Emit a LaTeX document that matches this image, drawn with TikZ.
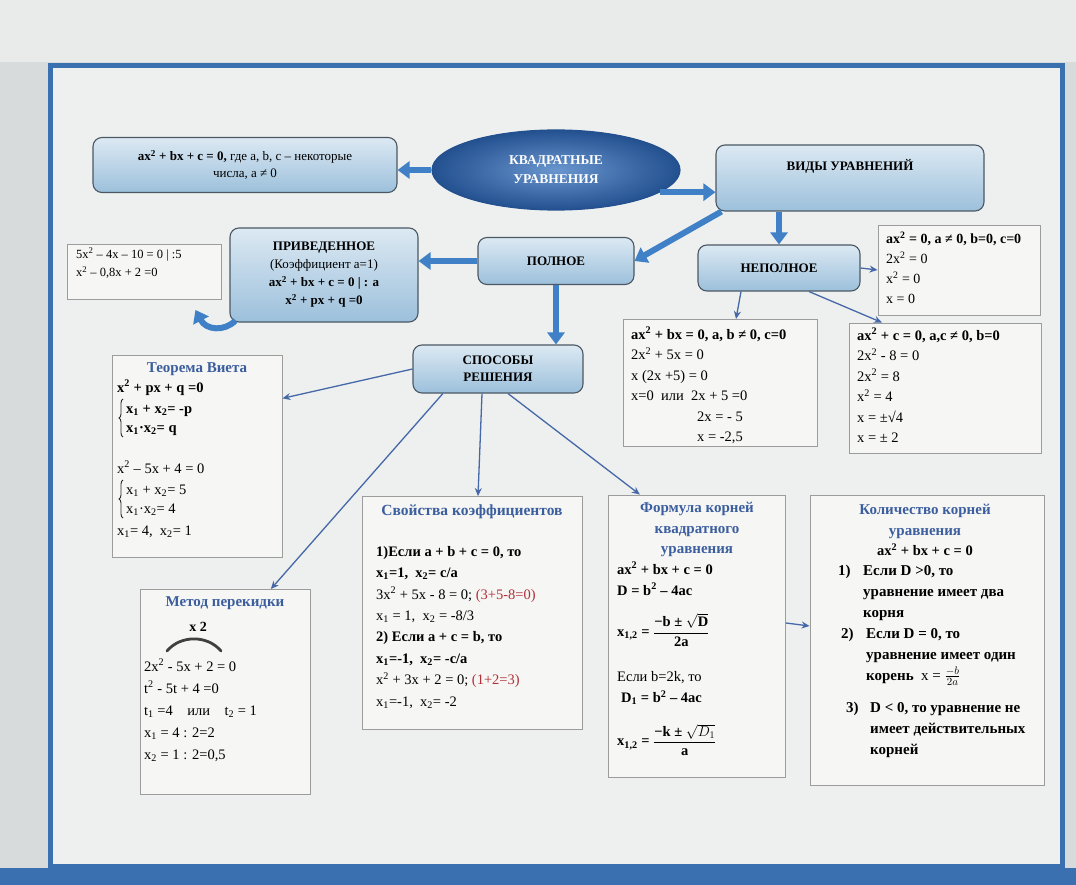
\documentclass[tikz,border=0pt]{standalone}
\usepackage{fontspec}
\setmainfont{Liberation Serif}
\usepackage{amsmath}
\usetikzlibrary{shapes.geometric,arrows.meta,calc,decorations.pathreplacing}
\definecolor{bgpaper}{HTML}{D8DBDC}
\definecolor{topband}{HTML}{E9EBEB}
\definecolor{poster}{HTML}{EEF0EF}
\definecolor{frameblue}{HTML}{3A6FB0}
\definecolor{boxtop}{HTML}{DCE9F3}
\definecolor{boxbot}{HTML}{9CC0DB}
\definecolor{boxedge}{HTML}{4B5863}
\definecolor{elltop}{HTML}{6A96CF}
\definecolor{ellbot}{HTML}{23508F}
\definecolor{arrowblue}{HTML}{3F80C6}
\definecolor{lineblue}{HTML}{4668A8}
\definecolor{titleblue}{HTML}{3B5E9E}
\definecolor{plainfill}{HTML}{F6F6F4}
\definecolor{plainedge}{HTML}{9C9C9C}
\definecolor{redtext}{HTML}{B0303A}
\newcommand\Sq{\textsuperscript{2}}
\newcommand\Xa{x\textsubscript{1}}
\newcommand\Xb{x\textsubscript{2}}
\tikzset{
 bluebox/.style={draw=boxedge, line width=1.1pt, rounded corners=9pt, top color=boxtop, bottom color=boxbot, align=center, font=\fontsize{13}{17}\selectfont\bfseries, inner sep=0pt},
 plainbox/.style={draw=plainedge, line width=0.9pt, fill=plainfill, inner sep=0pt},
 bodytext/.style={anchor=north west, align=left, inner sep=0pt, font=\fontsize{14.5}{20.5}\selectfont},
 vline/.style={anchor=base west, inner sep=0pt, font=\fontsize{14.5}{20}\selectfont},
 boxtitle/.style={anchor=north, align=center, inner sep=0pt, text=titleblue, font=\fontsize{15}{20.5}\selectfont\bfseries},
 bigarrow/.style={draw=arrowblue, line width=6pt, -{Triangle[width=17pt,length=12pt]}},
 thinarrow/.style={draw=lineblue, line width=1.3pt, -{Stealth[length=8pt,width=7pt]}},
 sysbrace/.style={draw=black!85, line width=0.9pt, decorate, decoration={brace, amplitude=4pt}},
}
\begin{document}
\begin{tikzpicture}[x=1pt,y=-1pt]
\useasboundingbox (0,0) rectangle (1076,885);
\fill[bgpaper] (0,0) rectangle (1076,885);
\fill[topband] (0,0) rectangle (1076,62);
\filldraw[fill=poster, draw=frameblue, line width=5pt] (50,66) rectangle (1062,866);
\fill[frameblue] (0,868) rectangle (1076,885);

% top row
\node[bluebox, minimum width=304, minimum height=55, font=\fontsize{13}{17}\selectfont] (def) at (245,165)
  {\textbf{ax\Sq{} + bx + c = 0,} где a, b, c – некоторые\\ числа, a ≠ 0};
\node[ellipse, draw=ellbot, line width=1.2pt, minimum width=248, minimum height=80, inner color=elltop, outer color=ellbot, text=white, align=center, font=\fontsize{13.5}{19}\selectfont\bfseries] (ell) at (556,170) {КВАДРАТНЫЕ\\УРАВНЕНИЯ};
\node[bluebox, minimum width=268, minimum height=66] (vidy) at (850,178) {};
\node[inner sep=0pt, font=\fontsize{13}{17}\selectfont\bfseries] (vidyt) at (850,166) {ВИДЫ УРАВНЕНИЙ};

% second row
\node[bluebox, minimum width=156, minimum height=47] (pol) at (556,261) {ПОЛНОЕ};
\node[bluebox, minimum width=162, minimum height=46] (nep) at (779,268) {НЕПОЛНОЕ};
\node[bluebox, minimum width=188, minimum height=94, font=\fontsize{13}{18}\selectfont\bfseries] (priv) at (324,275)
  {ПРИВЕДЕННОЕ\\ {\mdseries(Коэффициент a=1)}\\ ax\Sq{} + bx + c = 0 \textbar{} : a\\ x\Sq{} + px + q =0};
\node[plainbox, minimum width=154, minimum height=55] (b5) at (144,272) {};
\node[bodytext, font=\fontsize{12.5}{18.5}\selectfont] (b5t) at (76,248) {5x\Sq{} – 4x – 10 = 0 | :5\\ x\Sq{} – 0,8x + 2 =0};
\node[plainbox, minimum width=162, minimum height=90] (bc) at (959,270) {};
\node[bodytext, font=\fontsize{14}{20}\selectfont] (bct) at (886,232) {\textbf{ax\Sq{} = 0, a ≠ 0, b=0, c=0}\\ 2x\Sq{} = 0\\ x\Sq{} = 0\\ x = 0};

% methods
\node[bluebox, minimum width=170, minimum height=48] (sp) at (498,369) {СПОСОБЫ\\РЕШЕНИЯ};

% incomplete examples
\node[plainbox, minimum width=194, minimum height=127] (ba) at (720,383) {};
\node[bodytext] (bat) at (631,327) {\textbf{ax\Sq{} + bx = 0, a, b ≠ 0, c=0}\\ 2x\Sq{} + 5x = 0\\ x (2x +5) = 0\\ x=0\enspace или\enspace 2x + 5 =0\\ \hspace*{66pt}2x = - 5\\ \hspace*{66pt}x = -2,5};
\node[plainbox, minimum width=192, minimum height=130] (bb) at (945,388) {};
\node[bodytext] (bbt) at (857,328) {\textbf{ax\Sq{} + c = 0, a,c ≠ 0, b=0}\\ 2x\Sq{} - 8 = 0\\ 2x\Sq{} = 8\\ x\Sq{} = 4\\ x = ±√4\\ x = ± 2};

% Vieta
\node[plainbox, minimum width=170, minimum height=202] (vi) at (197,456) {};
\node[boxtitle] (vit) at (197,362) {Теорема Виета};
\node[vline, font=\fontsize{14.5}{20}\selectfont\bfseries] (vi1) at (117,392) {x\Sq{} + px + q =0};
\node[vline, font=\fontsize{14.5}{20}\selectfont\bfseries] (vi2a) at (126,413) {\Xa{} + \Xb= -p};
\node[vline, font=\fontsize{14.5}{20}\selectfont\bfseries] (vi2b) at (126,432) {\Xa·\Xb= q};
\draw[sysbrace] (123,437) -- (123,399);
\node[vline] (vi3) at (117,473) {x\Sq{} – 5x + 4 = 0};
\node[vline] (vi4a) at (126,494) {\Xa{} + \Xb= 5};
\node[vline] (vi4b) at (126,513) {\Xa·\Xb= 4};
\draw[sysbrace] (123,518) -- (123,480);
\node[vline] (vi5) at (117,535) {\Xa= 4,\enspace \Xb= 1};

% Metod perekidki
\node[plainbox, minimum width=170, minimum height=205] (mp) at (225,692) {};
\node[boxtitle] (mpt) at (225,596) {Метод перекидки};
\node[inner sep=0pt, font=\fontsize{14}{17}\selectfont\bfseries] (mpx) at (198,627) {x 2};
\draw[line width=2.8pt, draw=black!75, line cap=round] (167,651) to[bend left=50] (221,651);
\node[bodytext, font=\fontsize{14.5}{22}\selectfont] (mptx) at (144,659) {2x\Sq{} - 5x + 2 = 0\\ t\Sq{} - 5t + 4 =0\\ t\textsubscript{1} =4\quad или\quad t\textsubscript{2} = 1\\ \Xa{} = 4 : 2=2\\ \Xb{} = 1 : 2=0,5};

% Svoistva
\node[plainbox, minimum width=220, minimum height=233] (sv) at (472,613) {};
\node[boxtitle, font=\fontsize{15.5}{20}\selectfont\bfseries] (svt) at (472,505) {Свойства коэффициентов};
\node[bodytext, font=\fontsize{14.5}{21.4}\selectfont] (svtx) at (376,546) {%
 \textbf{1)Если a + b + c = 0, то}\\
 \textbf{\Xa=1,\enspace \Xb= c/a}\\
 3x\Sq{} + 5x - 8 = 0; \textcolor{redtext}{(3+5-8=0)}\\
 \Xa{} = 1,\enspace \Xb{} = -8/3\\
 \textbf{2) Если a + c = b, то}\\
 \textbf{\Xa=-1,\enspace \Xb= -c/a}\\
 x\Sq{} + 3x + 2 = 0; \textcolor{redtext}{(1+2=3)}\\
 \Xa=-1,\enspace \Xb= -2};

% Formula
\node[plainbox, minimum width=177, minimum height=282] (fm) at (697,636) {};
\node[boxtitle] (fmt) at (697,502) {Формула корней\\квадратного\\уравнения};
\node[bodytext, font=\fontsize{14.5}{21}\selectfont\bfseries] (fm1) at (617,562) {ax\Sq{} + bx + c = 0\\ D = b\Sq{} – 4ac};
\node[anchor=west, inner sep=0pt, font=\fontsize{14.5}{21}\selectfont\bfseries] (fmf1) at (617,630)
 {x\textsubscript{1,2} = $\dfrac{\mbox{\bfseries −b ± }\sqrt{\mbox{\bfseries D}}}{\mbox{\bfseries 2a}}$};
\node[bodytext, font=\fontsize{14.5}{21}\selectfont] (fm2) at (617,671) {Если b=2k, то\\ \hspace*{4pt}\textbf{D\textsubscript{1} = b\Sq{} – 4ac}};
\node[anchor=west, inner sep=0pt, font=\fontsize{14.5}{21}\selectfont\bfseries] (fmf2) at (617,740)
 {x\textsubscript{1,2} = $\dfrac{\mbox{\bfseries −k ± }\sqrt{D_1}}{\mbox{\bfseries a}}$};

% Kolichestvo
\node[plainbox, minimum width=234, minimum height=290] (kol) at (927,640) {};
\node[boxtitle] (kolt) at (925,504) {Количество корней\\уравнения};
\node[inner sep=0pt, font=\fontsize{14.5}{20}\selectfont\bfseries] (kolf) at (925,550) {ax\Sq{} + bx + c = 0};
\node[bodytext, font=\fontsize{15}{21}\selectfont\bfseries] (k1n) at (838,565) {1)};
\node[bodytext, font=\fontsize{15}{21}\selectfont\bfseries] (k1) at (863,565) {Если D >0, то\\ уравнение имеет два\\ корня};
\node[bodytext, font=\fontsize{15}{21}\selectfont\bfseries] (k2n) at (841,628) {2)};
\node[bodytext, font=\fontsize{15}{21}\selectfont\bfseries] (k2) at (866,628) {Если D = 0, то\\ уравнение имеет один\\ корень\enspace {\mdseries x =} $\frac{-b}{2a}$};
\node[bodytext, font=\fontsize{15}{21}\selectfont\bfseries] (k3n) at (846,702) {3)};
\node[bodytext, font=\fontsize{15}{21}\selectfont\bfseries] (k3) at (870,702) {D < 0, то уравнение не\\ имеет действительных\\ корней};

% thick arrows
\draw[bigarrow] (ell.west) -- (def.east |- ell.west);
\draw[bigarrow] (ell.-12) -- (vidy.west |- ell.-12);
\draw[bigarrow] ([xshift=6pt]vidy.south west) -- (pol.east);
\draw[bigarrow] (vidy.south -| nep.north) -- (nep.north);
\draw[bigarrow] (pol.west) -- (priv.east |- pol.west);
\draw[bigarrow] (pol.south) -- (pol.south |- sp.north);
\draw[bigarrow] ([xshift=6pt,yshift=2pt]priv.south west) .. controls (224,332) and (206,330) .. ([xshift=-26pt,yshift=-10pt]b5.south east);

% thin arrows
\draw[thinarrow] (sp.west) -- (vi.34);
\draw[thinarrow] (sp.204) -- (mp.66);
\draw[thinarrow] ([xshift=-16pt]sp.south) -- ([xshift=6pt]sv.north);
\draw[thinarrow] ([xshift=10pt]sp.south) -- (fm.112);
\draw[thinarrow] ([yshift=13pt]fm.east) -- ([yshift=14pt]kol.west);
\draw[thinarrow] (nep.east) -- (bc.west);
\draw[thinarrow] ([xshift=-38pt]nep.south) -- ([xshift=16pt]ba.north);
\draw[thinarrow] ([xshift=30pt]nep.south) -- ([xshift=-63pt]bb.north);
\end{tikzpicture}
\end{document}
